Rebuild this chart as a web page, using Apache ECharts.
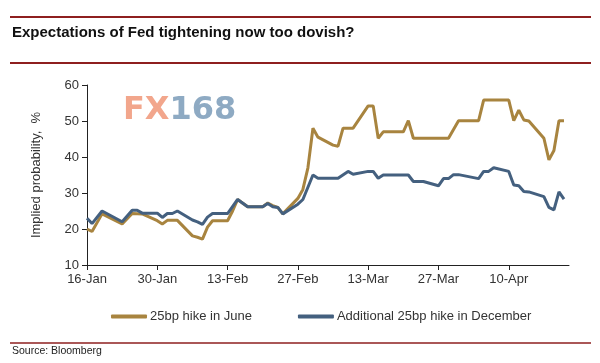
<!DOCTYPE html>
<html>
<head>
<meta charset="utf-8">
<script src="https://cdn.jsdelivr.net/npm/echarts@6/dist/echarts.min.js"></script>
<style>html,body{margin:0;padding:0;background:#fff;}#c{width:600px;height:363px;}</style>
</head>
<body>
<div id="c"></div>
<script>
// ---- data ----
const titleText = 'Expectations of Fed tightening now too dovish?';
const sourceText = 'Source: Bloomberg';
const seriesNames = ['25bp hike in June', 'Additional 25bp hike in December'];
const yTicks = [10, 20, 30, 40, 50, 60];
const xTickLabels = ['16-Jan', '30-Jan', '13-Feb', '27-Feb', '13-Mar', '27-Mar', '10-Apr'];

const juneDates = [
  '2017-01-16','2017-01-17','2017-01-19','2017-01-23','2017-01-25','2017-01-27','2017-01-30','2017-01-31','2017-02-01','2017-02-03',
  '2017-02-06','2017-02-07','2017-02-08','2017-02-09','2017-02-10','2017-02-13','2017-02-14','2017-02-15','2017-02-17','2017-02-20',
  '2017-02-21','2017-02-22','2017-02-23','2017-02-24','2017-02-27','2017-02-28','2017-03-01','2017-03-02','2017-03-03','2017-03-06',
  '2017-03-07','2017-03-08','2017-03-10','2017-03-13','2017-03-14','2017-03-15','2017-03-16','2017-03-20','2017-03-21','2017-03-22',
  '2017-03-29','2017-03-31','2017-04-04','2017-04-05','2017-04-10','2017-04-11','2017-04-12','2017-04-13','2017-04-14','2017-04-17',
  '2017-04-18','2017-04-19','2017-04-20','2017-04-21'];
const juneValues = [
  20, 19.3, 24.2, 21.4, 24.3, 24.2, 22.3, 21.4, 22.4, 22.4,
  18.1, 17.7, 17.2, 20.5, 22.3, 22.3, 25, 28.2, 26.2, 26.2,
  27.2, 26.5, 26, 24.2, 28.5, 31, 37, 48, 45.5, 43.3,
  43, 48, 48, 54.2, 54.2, 45.2, 47, 47, 50.1, 45.2,
  45.2, 50.1, 50.1, 55.8, 55.8, 50.1, 53, 50.3, 50, 45.2,
  39.2, 41.8, 50.1, 50.1];
const decDates = [
  '2017-01-16','2017-01-17','2017-01-19','2017-01-23','2017-01-25','2017-01-26','2017-01-27','2017-01-30','2017-01-31','2017-02-01',
  '2017-02-02','2017-02-03','2017-02-06','2017-02-07','2017-02-08','2017-02-09','2017-02-10','2017-02-13','2017-02-15','2017-02-17',
  '2017-02-20','2017-02-21','2017-02-22','2017-02-23','2017-02-24','2017-02-27','2017-02-28','2017-03-02','2017-03-03','2017-03-07',
  '2017-03-09','2017-03-10','2017-03-13','2017-03-14','2017-03-15','2017-03-16','2017-03-21','2017-03-22','2017-03-24','2017-03-27',
  '2017-03-28','2017-03-29','2017-03-30','2017-03-31','2017-04-04','2017-04-05','2017-04-06','2017-04-07','2017-04-10','2017-04-11',
  '2017-04-12','2017-04-13','2017-04-14','2017-04-17','2017-04-18','2017-04-19','2017-04-20','2017-04-21'];
const decValues = [
  23, 21.5, 25, 22, 25.2, 25.2, 24.4, 24.4, 23.2, 24.3,
  24.3, 25, 22.5, 22, 21.3, 23.3, 24.3, 24.3, 28.2, 26.2,
  26.2, 27.1, 26.2, 26, 24.2, 26.9, 28.2, 35, 34.1, 34.1,
  36, 35.2, 36, 36, 34.1, 35, 35, 33.2, 33.2, 32,
  34, 34, 35.1, 35.1, 34, 36, 36, 37, 36, 32.2,
  32, 30.4, 30.3, 29, 26, 25.3, 30.3, 28.3];

// ---- helpers ----
const startDate = Date.UTC(2017, 0, 16);
const dayOf = s => { const p = s.split('-').map(Number); return (Date.UTC(p[0], p[1]-1, p[2]) - startDate) / 86400000; };
const pairs = (ds, vs) => ds.map((d, i) => [dayOf(d), vs[i]]);
const xTickValues = xTickLabels.map((_, i) => i * 14);

const gold = '#a8843f';
const blue = '#44607f';
const red = '#8e1f1f';
const axisColor = '#222';
const font = '"Liberation Sans", Arial, sans-serif';

const chart = echarts.init(document.getElementById('c'), null, {renderer: 'canvas'});
chart.setOption({
  animation: false,
  backgroundColor: '#fff',
  grid: {left: 87, right: 31, top: 85, bottom: 98, containLabel: false},
  xAxis: {
    type: 'value', min: 0, max: 96, interval: 14,
    axisLine: {show: true, lineStyle: {color: axisColor, width: 1}},
    axisTick: {show: true, length: 5, lineStyle: {color: axisColor}, customValues: xTickValues},
    splitLine: {show: false},
    axisLabel: {
      color: '#333', fontFamily: font, fontSize: 13, margin: 8, customValues: xTickValues,
      formatter: v => { const i = Math.round(v / 14); return (v % 14 === 0 && i < xTickLabels.length) ? xTickLabels[i] : ''; }
    }
  },
  yAxis: {
    type: 'value', min: yTicks[0], max: yTicks[yTicks.length-1], interval: 10,
    name: 'Implied probability,  %', nameLocation: 'middle', nameGap: 44, nameRotate: 90,
    nameTextStyle: {color: '#333', fontFamily: font, fontSize: 13},
    axisLine: {show: true, lineStyle: {color: axisColor, width: 1}},
    axisTick: {show: true, length: 5, lineStyle: {color: axisColor}},
    splitLine: {show: false},
    axisLabel: {color: '#333', fontFamily: font, fontSize: 13, margin: 8}
  },
  legend: {
    left: 106, top: 305, itemWidth: 36, itemHeight: 4, itemGap: 46, icon: 'roundRect',
    textStyle: {color: '#333', fontFamily: font, fontSize: 13, padding: [0, 0, 0, -2]},
    data: seriesNames
  },
  series: [
    {name: seriesNames[0], type: 'line', data: pairs(juneDates, juneValues), showSymbol: false, symbol: 'none',
     lineStyle: {color: gold, width: 3}, itemStyle: {color: gold}},
    {name: seriesNames[1], type: 'line', data: pairs(decDates, decValues), showSymbol: false, symbol: 'none',
     lineStyle: {color: blue, width: 3}, itemStyle: {color: blue}}
  ],
  graphic: [
    {type: 'line', shape: {x1: 10, y1: 17, x2: 591, y2: 17}, style: {stroke: red, lineWidth: 2}},
    {type: 'line', shape: {x1: 10, y1: 63, x2: 591, y2: 63}, style: {stroke: red, lineWidth: 2}},
    {type: 'line', shape: {x1: 10, y1: 343, x2: 591, y2: 343}, style: {stroke: red, lineWidth: 1.5}},
    {type: 'text', left: 12, top: 25, style: {text: titleText, fill: '#111', font: 'bold 15px "Liberation Sans Narrow", "Arial Narrow", sans-serif'}},
    {type: 'text', left: 12, top: 346, style: {text: sourceText, fill: '#222', font: '10.5px "Liberation Sans Narrow", "Arial Narrow", sans-serif'}},
    {type: 'text', left: 123, top: 95, z: 0, style: {
      text: '{a|FX}{b|168}',
      rich: {
        a: {fill: '#f2a68c', font: 'bold 32px "DejaVu Sans", sans-serif'},
        b: {fill: '#8eaac3', font: 'bold 32px "DejaVu Sans", sans-serif'}
      }
    }}
  ]
});
</script>
</body>
</html>
